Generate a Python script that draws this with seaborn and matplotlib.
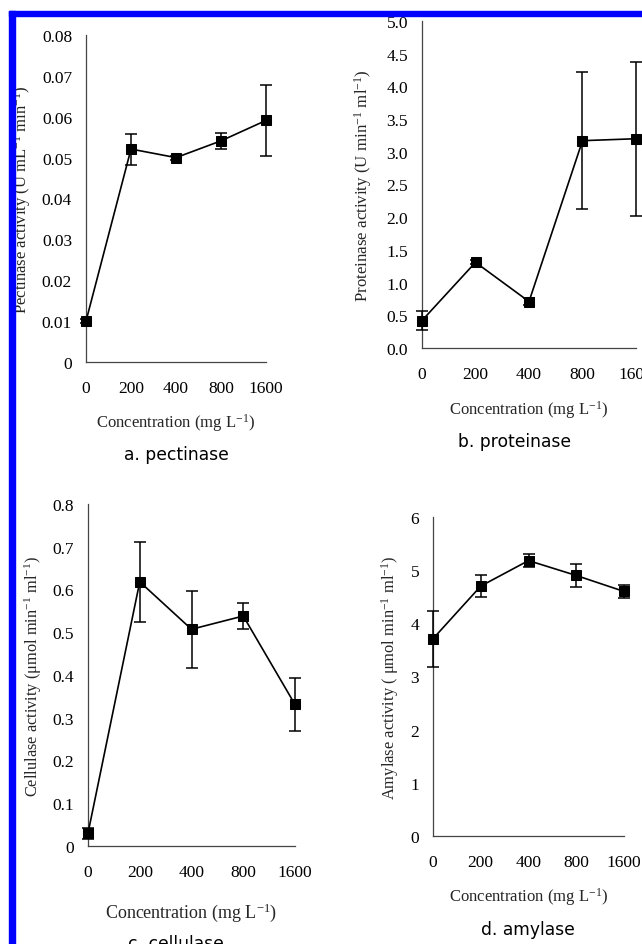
import matplotlib
matplotlib.use("Agg")
import matplotlib.pyplot as plt
import seaborn as sns
import pandas as pd
from matplotlib.patches import Rectangle
from matplotlib.ticker import FuncFormatter

# ---------------- data ----------------
concentrations = ["0", "200", "400", "800", "1600"]

pectinase = [0.0100, 0.0521, 0.0500, 0.0541, 0.0591]
pectinase_err = [0.0004, 0.0038, 0.0005, 0.0019, 0.0087]

proteinase = [0.42, 1.31, 0.71, 3.17, 3.20]
proteinase_err = [0.15, 0.03, 0.06, 1.05, 1.18]

cellulase = [0.030, 0.618, 0.507, 0.538, 0.331]
cellulase_err = [0.013, 0.093, 0.090, 0.031, 0.061]

amylase = [3.71, 4.70, 5.18, 4.90, 4.60]
amylase_err = [0.53, 0.20, 0.125, 0.215, 0.125]

# ---------------- style ----------------
sns.set_theme(style="white")
plt.rcParams["font.family"] = ["Liberation Serif", "DejaVu Serif"]
plt.rcParams["mathtext.fontset"] = "custom"
plt.rcParams["mathtext.rm"] = "Liberation Serif"
plt.rcParams["mathtext.default"] = "regular"

W, H = 642, 945
fig = plt.figure(figsize=(W / 100, H / 100), dpi=100)
fig.patch.set_facecolor("white")

# blue frame (top and left edges)
fig.patches.append(Rectangle((9 / W, 1 - 17 / H), (W - 9) / W, 5 / H,
                             transform=fig.transFigure, color="#0000ff", zorder=10))
fig.patches.append(Rectangle((9 / W, 0), 6 / W, 1 - 12 / H,
                             transform=fig.transFigure, color="#0000ff", zorder=10))

panels = [
    dict(vals=pectinase, err=pectinase_err, box=(86, 266, 36, 363), ylim=0.08,
         yticks=[i * 0.01 for i in range(9)],
         fmt=lambda v, p: "0" if abs(v) < 1e-9 else f"{v:.2f}",
         ylabel=r"Pectinase activity (U mL$^{-1}$ min$^{-1}$)",
         title="a. pectinase", ylab_x=22, xlab_y=423, title_xy=(176, 455),
         fs=12.5, xfs=12, yfs=12),
    dict(vals=proteinase, err=proteinase_err, box=(422, 636, 22, 349), ylim=5.0,
         yticks=[i * 0.5 for i in range(11)],
         fmt=lambda v, p: f"{v:.1f}",
         ylabel=r"Proteinase activity (U min$^{-1}$ ml$^{-1}$)",
         title="b. proteinase", ylab_x=363, xlab_y=410, title_xy=(515, 442),
         fs=12.5, xfs=12, yfs=12.2),
    dict(vals=cellulase, err=cellulase_err, box=(88, 295, 505, 847), ylim=0.8,
         yticks=[i * 0.1 for i in range(9)],
         fmt=lambda v, p: "0" if abs(v) < 1e-9 else f"{v:.1f}",
         ylabel=r"Cellulase activity (μmol min$^{-1}$ ml$^{-1}$)",
         title="c. cellulase", ylab_x=33, xlab_y=913, title_xy=(176, 944),
         fs=12.5, xfs=13, yfs=11.8),
    dict(vals=amylase, err=amylase_err, box=(433, 624, 518, 837), ylim=6,
         yticks=list(range(7)),
         fmt=lambda v, p: f"{v:.0f}",
         ylabel=r"Amylase activity ( μmol min$^{-1}$ ml$^{-1}$)",
         title="d. amylase", ylab_x=390, xlab_y=897, title_xy=(528, 930),
         fs=12.5, xfs=12, yfs=11.9),
]

for P in panels:
    l, r, t, b = P["box"]
    ax = fig.add_axes([l / W, 1 - b / H, (r - l) / W, (b - t) / H])
    ax.set_facecolor("white")
    df = pd.DataFrame({"conc": concentrations, "value": P["vals"], "err": P["err"]})
    df["pos"] = range(len(df))

    ax.errorbar(df["pos"], df["value"], yerr=df["err"], fmt="none",
                ecolor="black", elinewidth=1.1, capsize=4, capthick=1.1,
                clip_on=False, zorder=3)
    sns.lineplot(data=df, x="pos", y="value", ax=ax, color="black",
                 linewidth=1.2, marker="s", markersize=7.5,
                 markeredgecolor="black", markerfacecolor="black",
                 clip_on=False, zorder=4)

    ax.set_xlim(0, len(concentrations) - 1)
    ax.set_ylim(0, P["ylim"])
    ax.set_xticks(df["pos"])
    ax.set_xticklabels(df["conc"])
    ax.set_yticks(P["yticks"])
    ax.yaxis.set_major_formatter(FuncFormatter(P["fmt"]))

    for s in ["top", "right"]:
        ax.spines[s].set_visible(False)
    for s in ["left", "bottom"]:
        ax.spines[s].set_color("#444444")
        ax.spines[s].set_linewidth(0.9)

    ax.tick_params(axis="both", direction="in", length=4, width=0.8,
                   color="#444444", labelsize=P["fs"], labelcolor="black")
    ax.tick_params(axis="x", pad=13)
    ax.tick_params(axis="y", pad=10)

    ax.set_xlabel(r"Concentration (mg L$^{-1}$)", fontsize=P["xfs"])
    ax.set_ylabel(P["ylabel"], fontsize=P["yfs"])
    # position labels in axes fraction from pixel positions
    ax.xaxis.set_label_coords(0.5, (b - P["xlab_y"]) / (b - t))
    ax.xaxis.label.set_va("center")
    ax.yaxis.set_label_coords((P["ylab_x"] - l) / (r - l), 0.5)
    ax.yaxis.label.set_va("center")

    tx, ty = P["title_xy"]
    fig.text(tx / W, 1 - ty / H, P["title"], ha="center", va="center",
             fontsize=12.3, family=["DejaVu Sans"], color="black")

fig.savefig("out.png", dpi=100, facecolor="white")
